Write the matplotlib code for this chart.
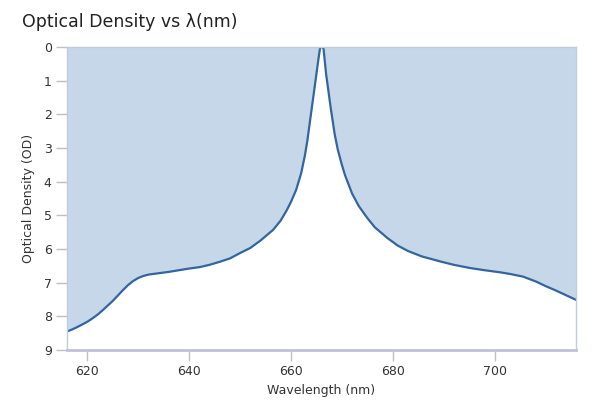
import matplotlib
matplotlib.use("Agg")
import matplotlib.pyplot as plt

# wavelength (nm) and optical density
wavelength = [616, 617, 618, 619, 620, 621, 622, 623, 624, 625, 626, 627, 628,
              629, 630, 631, 632, 634, 636, 638, 640, 642, 644, 646, 648, 650,
              652, 654, 656.5, 658, 659.2, 660, 661, 662, 662.7, 663.2, 664.1,
              665.0, 665.4, 665.7, 665.9, 666.2, 666.4, 666.6, 666.9, 667.8,
              668.6, 669.2, 670, 670.6, 672, 673.3, 675, 676.5, 679, 681, 683,
              685.7, 689.6, 692, 695, 698, 701, 703, 705.6, 708.2, 710, 712,
              714, 716]
od = [8.45, 8.39, 8.32, 8.24, 8.16, 8.06, 7.95, 7.82, 7.68, 7.54, 7.38, 7.22,
      7.07, 6.95, 6.86, 6.80, 6.76, 6.72, 6.68, 6.63, 6.58, 6.54, 6.47, 6.38,
      6.28, 6.12, 5.97, 5.75, 5.43, 5.15, 4.84, 4.60, 4.25, 3.75, 3.25, 2.80,
      1.80, 0.80, 0.35, 0.05, 0.0, 0.0, 0.05, 0.35, 0.80, 1.80, 2.60, 3.05,
      3.50, 3.80, 4.35, 4.72, 5.08, 5.36, 5.68, 5.90, 6.06, 6.22, 6.38, 6.47,
      6.56, 6.63, 6.69, 6.74, 6.82, 6.97, 7.10, 7.23, 7.37, 7.51]

x_ticks = [620, 640, 660, 680, 700]
y_ticks = list(range(10))

plt.rcParams['font.family'] = ['DejaVu Sans']

fig = plt.figure(figsize=(6, 4), dpi=100, facecolor='white')
ax = fig.add_axes([0.1117, 0.125, 0.8483, 0.7575])

ax.fill_between(wavelength, 0, od, color='#c6d7ea', lw=0)
ax.plot(wavelength, od, color='#33659e', lw=1.6, solid_joinstyle='round')

ax.set_xlim(616, 716)
ax.set_ylim(9, 0)
ax.set_xticks(x_ticks)
ax.set_yticks(y_ticks)

for side in ['left', 'top', 'right']:
    ax.spines[side].set_color('#c5cbd6')
    ax.spines[side].set_linewidth(1)
ax.spines['bottom'].set_color('#c0c0d6')
ax.spines['bottom'].set_linewidth(2)

ax.tick_params(axis='both', color='#c0c0c0', length=8, width=1,
               labelsize=9, labelcolor='#333333', pad=3)

ax.set_xlabel('Wavelength (nm)', fontsize=9, color='#333333', labelpad=4)
ax.set_ylabel('Optical Density (OD)', fontsize=9, color='#333333', labelpad=6)

fig.text(0.037, 0.945, 'Optical Density vs λ(nm)', fontsize=12.5,
         color='#222222', va='center', ha='left')

fig.savefig('out.png', dpi=100)
